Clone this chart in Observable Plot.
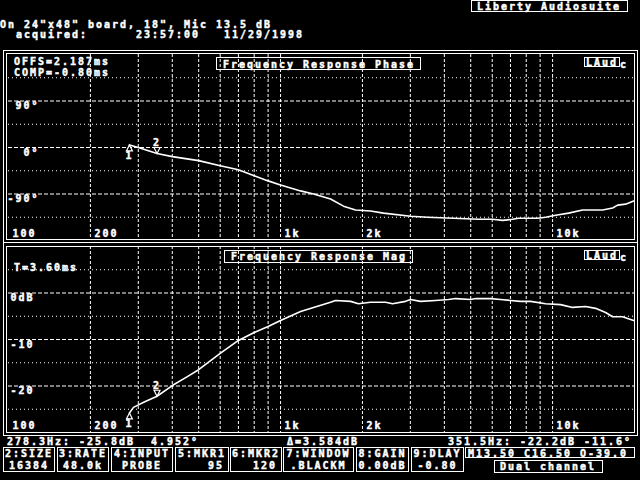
<!DOCTYPE html>
<html><head><meta charset="utf-8">
<script src="https://cdn.jsdelivr.net/npm/d3@7"></script>
<script src="https://cdn.jsdelivr.net/npm/@observablehq/plot@0.6"></script>
<style>
html,body{margin:0;padding:0;background:#000;}
#screen{position:relative;width:640px;height:480px;background:#000;overflow:hidden;color:#fff;
  font-family:"DejaVu Sans Mono",monospace;font-weight:bold;font-size:10px;letter-spacing:1.98px;}
.t{position:absolute;white-space:pre;line-height:9px;-webkit-text-stroke:0.45px #fff;}
.box{position:absolute;border:1px solid #fff;box-sizing:border-box;}
#screen svg{position:absolute;left:0;}
</style></head><body><div id="screen"></div>
<script>
// ---------------- data ----------------
const magFreq = [278.3, 288, 314, 351.5, 400, 448, 500, 600, 700, 800, 900, 1000, 1185, 1322, 1527, 1592, 1809, 1934, 2142, 2432, 2581, 2881, 3006, 3270, 3714, 4145, 4400, 4995, 5212, 5916, 6439, 7000, 7627, 8303, 9425, 10700, 11840, 13220, 14390, 15660, 16620, 18090, 18870, 19860];
const magDb   = [-25.8, -24.6, -23.5, -22.2, -19.9, -18.2, -16.5, -13.0, -10.2, -8.5, -7.2, -5.9, -4.0, -3.1, -2.0, -1.6, -1.8, -2.3, -2.0, -2.0, -2.3, -1.8, -1.4, -1.8, -1.6, -1.4, -1.2, -1.4, -1.2, -1.2, -1.4, -1.6, -1.8, -1.8, -2.3, -2.5, -3.1, -2.9, -3.3, -4.2, -5.1, -5.1, -5.5, -5.9];
const phaseFreq = [278.3, 300, 351.5, 400, 500, 600, 700, 800, 900, 1000, 1185, 1322, 1527, 1704, 1887, 2142, 2391, 3006, 3471, 4325, 5346, 6000, 6550, 7128, 7500, 8810, 9425, 10260, 11450, 12890, 15270, 16620, 17340, 18550, 19860];
const phaseDeg  = [4.95, 0, -11.6, -17.6, -25.4, -35.2, -43, -54.8, -64.6, -72.4, -84, -90, -99.8, -113.5, -121, -123, -127, -133, -135, -137, -139, -139, -141, -139, -137, -137, -135, -131, -127, -121, -121, -117, -111.5, -109.6, -103.7];
const markerFreq = [278.3, 351.5];
const markerDb = [-25.8, -22.2];
const markerDeg = [4.952, -11.6];
const markerNames = ["1", "2"];
const xTickValues = [100, 200, 1000, 2000, 10000];
const xTickLabels = ["100", "200", "1k", "2k", "10k"];
const xGridValues = [200, 300, 400, 500, 600, 700, 800, 900, 1000, 2000, 3000, 4000, 5000, 6000, 7000, 8000, 9000, 10000];
const phaseTickValues = [90, 0, -90];
const phaseTickLabels = ["90°", "0°", "-90°"];
const phaseMinorValues = [135, 45, -45, -135];
const magTickValues = [0, -10, -20];
const magTickLabels = ["0dB", "-10", "-20"];
const magMinorValues = [5, -5, -15, -25];
const buttonKeys = ["2:SIZE", "3:RATE", "4:INPUT", "5:MKR1", "6:MKR2", "7:WINDOW", "8:GAIN", "9:DLAY"];
const buttonValues = ["16384", "48.0k", "PROBE", "95", "120", ".BLACKM", "0.00dB", "-0.80"];

// ---------------- layout ----------------
const screen = document.getElementById("screen");
const FONT = "DejaVu Sans Mono";
function txt(s, left, top, extra) {
  const d = document.createElement("div");
  d.className = "t"; d.textContent = s;
  d.style.left = left + "px"; d.style.top = top + "px";
  if (extra) Object.assign(d.style, extra);
  screen.appendChild(d); return d;
}
function box(left, top, right, bottom) {
  const d = document.createElement("div");
  d.className = "box";
  d.style.left = left + "px"; d.style.top = top + "px";
  d.style.width = (right - left + 1) + "px"; d.style.height = (bottom - top + 1) + "px";
  screen.appendChild(d); return d;
}

// marker symbols (outlined triangles, tip at the data point)
const triUp = {draw(ctx, size) { const r = Math.sqrt(size / Math.PI); ctx.moveTo(0, 0); ctx.lineTo(r, 2 * r); ctx.lineTo(-r, 2 * r); ctx.closePath(); }};
const triDown = {draw(ctx, size) { const r = Math.sqrt(size / Math.PI); ctx.moveTo(0, 0); ctx.lineTo(r, -2 * r); ctx.lineTo(-r, -2 * r); ctx.closePath(); }};

function panel({top, height, mTop, mBottom, yDomain, rows, yKey, majors, majorLabels, minors, mVals, labelX}) {
  const textStyle = {fill: "white", stroke: "white", strokeWidth: 0.45, fontFamily: FONT, fontWeight: "bold", fontSize: 10};
  const markers = markerFreq.map((f, i) => ({f, v: mVals[i], name: markerNames[i]}));
  const p = Plot.plot({
    width: 640, height,
    marginLeft: 8, marginRight: 6, marginTop: mTop, marginBottom: mBottom,
    x: {type: "log", domain: [100, 20000], axis: null},
    y: {domain: yDomain, axis: null},
    style: {background: "transparent", color: "white", letterSpacing: "1.98px", overflow: "visible"},
    marks: [
      Plot.ruleX(xGridValues, {stroke: "white", strokeWidth: 1, strokeDasharray: "3,2"}),
      Plot.ruleY(majors, {stroke: "white", strokeWidth: 1, strokeDasharray: "4,2"}),
      Plot.ruleY(minors, {stroke: "white", strokeWidth: 1, strokeDasharray: "1,3"}),
      Plot.line(rows, {x: "f", y: yKey, stroke: "white", strokeWidth: 1.6}),
      Plot.text(xTickValues, {x: d => d, text: (d, i) => xTickLabels[i], frameAnchor: "bottom", textAnchor: "start", lineAnchor: "bottom", dx: 4, dy: -4, ...textStyle}),
      Plot.text(majors, {y: d => d, text: (d, i) => majorLabels[i], frameAnchor: "left", textAnchor: "end", lineAnchor: "top", dx: labelX, dy: 1, ...textStyle}),
      Plot.dot([markers[0]], {x: "f", y: "v", symbol: triUp, r: 3, fill: "black", stroke: "white", strokeWidth: 1.2}),
      Plot.text([markers[0]], {x: "f", y: "v", text: "name", lineAnchor: "top", dy: 7, ...textStyle}),
      Plot.dot([markers[1]], {x: "f", y: "v", symbol: triDown, r: 3, fill: "black", stroke: "white", strokeWidth: 1.2}),
      Plot.text([markers[1]], {x: "f", y: "v", text: "name", lineAnchor: "bottom", dy: -7, ...textStyle})
    ]
  });
  p.style.top = top + "px";
  screen.appendChild(p);
}

const phaseRows = phaseFreq.map((f, i) => ({f, deg: phaseDeg[i]}));
const magRows = magFreq.map((f, i) => ({f, db: magDb[i]}));

panel({top: 50, height: 193, mTop: 4, mBottom: 3, yDomain: [-180, 180], rows: phaseRows, yKey: "deg",
  majors: phaseTickValues, majorLabels: phaseTickLabels, minors: phaseMinorValues, mVals: markerDeg, labelX: 31});
panel({top: 243, height: 192, mTop: 3, mBottom: 3, yDomain: [-30, 10], rows: magRows, yKey: "db",
  majors: magTickValues, majorLabels: magTickLabels, minors: magMinorValues, mVals: markerDb, labelX: 26});

// header
txt('On 24"x48" board, 18", Mic 13.5 dB', 0, 20);
txt('  acquired:      23:57:00   11/29/1998', 0, 30);
box(471, 0, 627, 11);
txt("Liberty Audiosuite", 477, 2);

// frames
box(3, 50, 637, 242);
box(6, 53, 634, 239);
box(3, 242, 637, 435);
box(6, 246, 634, 432);

// phase panel texts
txt("OFFS=2.187ms", 14, 57);
txt("COMP=-0.80ms", 14, 68);
box(216, 57, 420, 69);
txt("Frequency Response Phase", 223, 60);
box(584, 57, 619, 66);
txt("LAud", 586, 58);
txt("c", 620, 60);

// magnitude panel texts
txt("T=3.60ms", 14, 263);
box(224, 250, 412, 262);
txt("Frequency Response Mag", 231, 252);
box(584, 250, 619, 259);
txt("LAud", 586, 251);
txt("c", 620, 253);

// footer readout
txt("278.3Hz: -25.8dB  4.952°", 7, 437);
txt("Δ=3.584dB", 287, 437);
txt("351.5Hz: -22.2dB -11.6°", 448, 437);

const buttonBoxes = [[3, 54], [57, 108], [111, 172], [175, 228], [230, 281], [283, 353], [356, 408], [411, 463]];
buttonBoxes.forEach(([l, r], i) => {
  box(l, 447, r, 471);
  const w = r - l + 1;
  txt(buttonKeys[i], l, 449, {width: w + "px", textAlign: "center"});
  const right = (i === 3 || i === 4);
  txt(buttonValues[i], l, 461, {width: (right ? w - 5 : w) + "px", textAlign: right ? "right" : "center"});
});
box(465, 447, 634, 457);
txt("M13.50 C16.50 O-39.0", 468, 449);
box(494, 460, 602, 472);
txt("Dual channel", 500, 462);
</script></body></html>
